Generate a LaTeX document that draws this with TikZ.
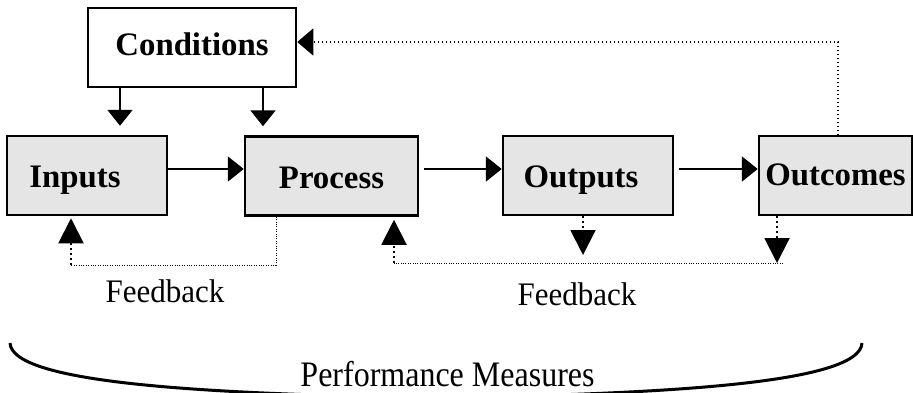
\documentclass[tikz,border=0pt]{standalone}
\usepackage{fontspec}
\setmainfont{Liberation Serif}
\usetikzlibrary{arrows.meta}

\begin{document}
\begin{tikzpicture}[x=0.5pt, y=-0.5pt,
	box/.style={rectangle, draw, line width=1.25pt, fill=black!10, minimum height=39.5pt, inner sep=0pt, text height=12pt, text depth=0pt, font=\fontsize{16.4}{19}\selectfont\bfseries},
	flow/.style={line width=1pt, -{Triangle[length=8pt,width=12.5pt]}},
	back/.style={line width=0.6pt, dash pattern=on 0.6pt off 1.4pt, -{Triangle[length=8pt,width=13.5pt]}},
	fb/.style={line width=0.4pt, dash pattern=on 0.4pt off 0.8pt},
	fbarrow/.style={line width=1pt, dash pattern=on 1pt off 1.5pt, -{Triangle[length=12.5pt,width=12.5pt]}},
	lbl/.style={font=\fontsize{15.5}{18}\selectfont, anchor=base}]
	\useasboundingbox (0,0) rectangle (913,392);
	\path (192,47.5) node(cond)[box, fill=white, minimum width=104pt, text height=7.5pt]{Conditions}
	(87,175.5) node(inp)[box, minimum width=80pt]{\hspace*{-12pt}Inputs}
	(331.5,176) node(proc)[box, minimum width=86.5pt]{Process}
	(588,175.5) node(outp)[box, minimum width=85pt]{\hspace*{-7pt}Outputs}
	(835.5,175.5) node(outc)[box, minimum width=76.5pt, text height=10pt]{Outcomes};
	% conditions feed inputs and process
	\draw [flow, shorten >=4.5pt] (120,0 |- cond.south) -- (120,0 |- inp.north);
	\draw [flow, shorten >=4.5pt] (263,0 |- cond.south) -- (263,0 |- proc.north);
	% main chain
	\draw [flow] (inp.east |- 0,169) -- (proc.west |- 0,169);
	\draw [flow, shorten <=2.5pt] (proc.east |- 0,169) -- (outp.west |- 0,169);
	\draw [flow, shorten <=2.5pt] (outp.east |- 0,169) -- (outc.west |- 0,169);
	\draw [back] (838,0 |- outc.north) |- (cond.east |- 0,42);
	% feedback loops
	\coordinate (fb1a) at (276,265);
	\coordinate (fb1b) at (71,265);
	\coordinate (fb2a) at (783,263);
	\coordinate (fb2b) at (394,263);
	\draw [fb] (276,0 |- proc.south) -- (fb1a) -- (fb1b);
	\draw [fbarrow, shorten >=1pt] (fb1b) -- (71,0 |- inp.south);
	\draw [fbarrow] (777,0 |- outc.south) -- (777,0 |- fb2a);
	\draw [fbarrow, shorten >=4pt] (583,0 |- outp.south) -- (583,0 |- fb2a);
	\draw [fb] (fb2a) -- (fb2b);
	\draw [fbarrow, shorten >=1.5pt] (fb2b) -- (394,0 |- proc.south);
	\path (165,302) node(fbl)[lbl]{\scalebox{1}[1.06]{Feedback}}
	(577,305) node(fbr)[lbl]{\scalebox{1}[1.06]{Feedback}}
	(447.5,386) node(perf)[lbl, font=\fontsize{16}{19}\selectfont]{\scalebox{1}[1.12]{Performance Measures}};
	\draw [line width=1.5pt] (10,343) .. controls (12,385) and (220,394) .. (436,398) .. controls (652,394) and (860,385) .. (862,343);
\end{tikzpicture}
\end{document}
